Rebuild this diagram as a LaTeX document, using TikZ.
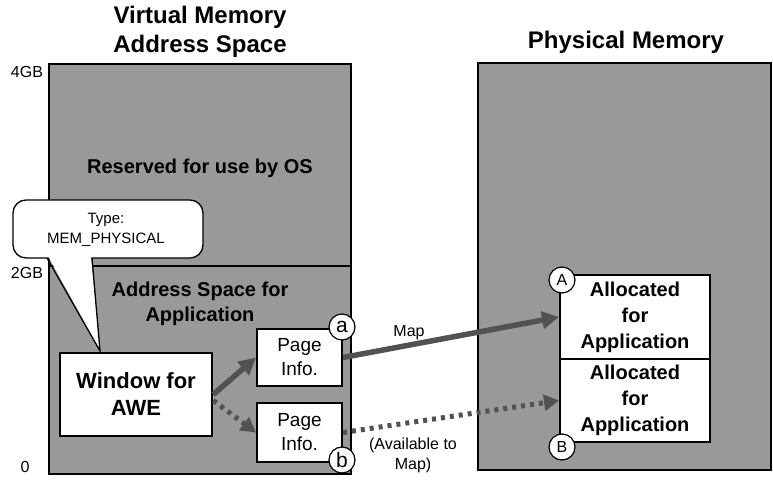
\documentclass[tikz,border=0pt]{standalone}
\usepackage{fontspec}
\setmainfont{Liberation Sans}
\usetikzlibrary{arrows.meta}
\begin{document}
\begin{tikzpicture}[x=1pt,y=-1pt,
  membox/.style={draw=black, line width=2pt, fill=black!40},
  whitebox/.style={draw=black, line width=2pt, fill=white, inner sep=0pt, align=center},
  tag/.style={circle, draw=black, line width=1.2pt, fill=white, minimum size=26pt, inner sep=0pt},
  maparrow/.style={draw=black!68, line width=5.5pt, -{Triangle[length=17pt,width=17pt]}},
  availarrow/.style={draw=black!68, line width=5pt, dash pattern=on 4pt off 5pt, -{Triangle[length=15pt,width=16pt]}},
  axislabel/.style={font=\fontsize{16}{16}\selectfont},
  regionlabel/.style={font=\fontsize{20}{25}\selectfont\bfseries, align=center},
  titlelabel/.style={font=\fontsize{24}{29}\selectfont\bfseries, align=center},
]
\useasboundingbox (0,0) rectangle (773,479);

% titles
\node[titlelabel] (vtitle) at (200,32) {Virtual Memory\\Address Space};
\node[titlelabel] (ptitle) at (626,42) {Physical Memory};

% axis labels
\node[axislabel] (l4) at (27,72) {4GB};
\node[axislabel] (l2) at (27,273) {2GB};
\node[axislabel] (l0) at (25,467) {0};

% virtual memory box
\draw[membox] (49,64) rectangle (351,474);
\draw[membox] (49,266) rectangle (351,474);
\node[regionlabel] (os) at (200,168) {Reserved for use by OS};
\node[regionlabel] (app) at (200,304) {Address Space for\\Application};

% physical memory box
\draw[membox] (478,63) rectangle (771,470);

% callout
\draw[line width=1.3pt, fill=white, rounded corners=13pt] (13,200) rectangle (203,258);
\fill[white] (48.5,256.8) -- (91,256.8) -- (100,350) -- cycle;
\draw[line width=1.3pt] (47,258) -- (100,351) -- (92,258);
\node[align=center, font=\fontsize{15}{20}\selectfont] (type) at (106,230) {Type:\\MEM\_PHYSICAL};

% window
\node[whitebox, line width=2.5pt, minimum width=152pt, minimum height=83pt,
      font=\fontsize{22}{27}\selectfont\bfseries] (win) at (136,394.5) {Window for\\AWE};

% page infos
\node[whitebox, minimum width=85pt, minimum height=57pt,
      font=\fontsize{19}{24}\selectfont] (pa) at (299.5,357.5) {Page\\Info.};
\node[whitebox, minimum width=85pt, minimum height=59pt,
      font=\fontsize{19}{24}\selectfont] (pb) at (299.5,432.5) {Page\\Info.};

% allocated blocks
\node[whitebox, minimum width=150pt, minimum height=84pt,
      font=\fontsize{20}{26}\selectfont\bfseries] (allA) at (635,317) {Allocated\\for\\Application};
\node[whitebox, minimum width=150pt, minimum height=83pt,
      font=\fontsize{20}{26}\selectfont\bfseries] (allB) at (635,400.5) {Allocated\\for\\Application};

% arrows
\draw[maparrow] (win.east) -- (pa.west);
\draw[availarrow] ([yshift=-6pt]win.east) -- (pb.west);
\draw[maparrow] (pa.east) -- (allA.west);
\draw[availarrow] (pb.east) -- (allB.west);

\node[font=\fontsize{16}{16}\selectfont] (maplabel) at (409,333) {Map};
\node[align=center, font=\fontsize{16}{20}\selectfont] (avail) at (413,455) {(Available to\\Map)};

% tags
\node[tag, font=\fontsize{21}{21}\selectfont] (ta) at (342,327) {a};
\node[tag, font=\fontsize{21}{21}\selectfont] (tb) at (342,460) {b};
\node[tag, font=\fontsize{16}{16}\selectfont] (tA) at (562,280) {A};
\node[tag, font=\fontsize{16}{16}\selectfont] (tB) at (562,447) {B};
\end{tikzpicture}
\end{document}
